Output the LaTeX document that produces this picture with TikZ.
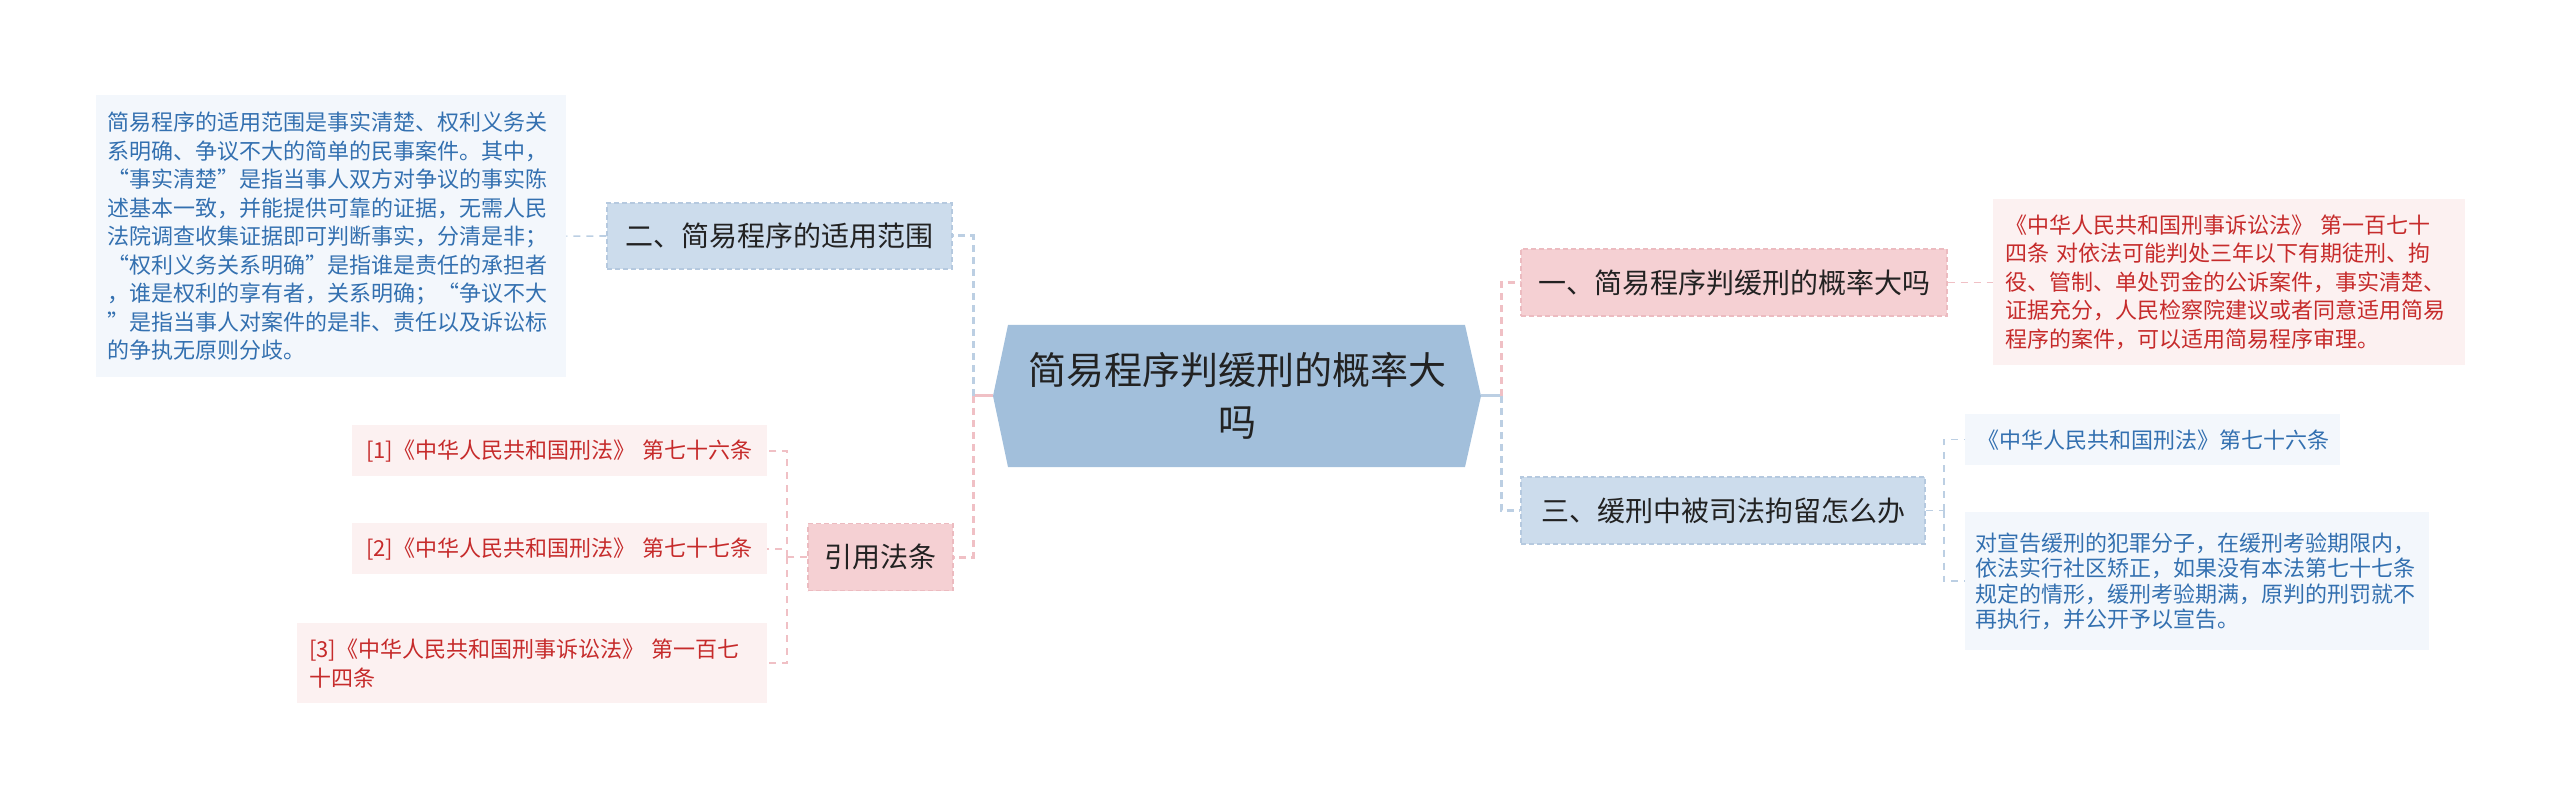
\documentclass[tikz,border=0pt]{standalone}
\usepackage{fontspec}
\newfontfamily\cjk{Noto Sans CJK SC}
\newcommand\fwq[1]{{\addfontfeature{CharacterWidth=Full}#1}}
\definecolor{centerfill}{HTML}{A2BFDB}
\definecolor{bfill}{HTML}{CCDCEC}
\definecolor{bborder}{HTML}{B5C9DF}
\definecolor{pfill}{HTML}{F5D0D3}
\definecolor{pborder}{HTML}{ECBBC0}
\definecolor{lblue}{HTML}{F3F7FC}
\definecolor{lpink}{HTML}{FCF1F1}
\definecolor{bluetext}{HTML}{3370B0}
\definecolor{redtext}{HTML}{C62B2B}
\definecolor{titletext}{HTML}{222222}
\definecolor{conblue}{HTML}{BCCFE3}
\definecolor{conpink}{HTML}{F0C0C5}
\tikzset{
  branchB/.style={fill=bfill, draw=bborder, dash pattern=on 5pt off 3pt, line width=1.2pt,
    inner sep=0pt, text=titletext, font={\cjk\fontsize{28}{34}\selectfont}},
  branchP/.style={branchB, fill=pfill, draw=pborder},
  leafB/.style={fill=lblue, text=bluetext, inner xsep=11pt, inner ysep=0pt, anchor=north west,
    align=left, font={\cjk\fontsize{22}{28.5}\selectfont}},
  leafP/.style={leafB, fill=lpink, text=redtext},
  trunkB/.style={draw=conblue, line width=3pt, dash pattern=on 7pt off 5pt},
  trunkP/.style={trunkB, draw=conpink},
  twigB/.style={draw=conblue, line width=1.6pt, dash pattern=on 7pt off 6pt},
  twigP/.style={twigB, draw=conpink},
}
\begin{document}
\begin{tikzpicture}[x=1pt,y=-1pt]
\useasboundingbox (0,0) rectangle (2560,799);

% central hexagon
\fill[centerfill] (993,396) -- (1008,325) -- (1465,325) -- (1481,396) -- (1465,467) -- (1008,467) -- cycle;
\coordinate (cL) at (993,396);
\coordinate (cR) at (1481,396);
\node[text width=440pt, align=center, text=titletext, font={\cjk\fontsize{38}{52}\selectfont}] (center) at (1237,396) {简易程序判缓刑的概率大\\吗};

% branch nodes
\node[branchB, minimum width=345pt, minimum height=66pt] (B2) at (779.5,236) {二、简易程序的适用范围};
\node[branchP, minimum width=145pt, minimum height=67pt] (B3) at (880.5,557) {引用法条};
\node[branchP, minimum width=426pt, minimum height=67pt] (B1) at (1734,282.5) {一、简易程序判缓刑的概率大吗};
\node[branchB, minimum width=404pt, minimum height=67pt] (B4) at (1723,510.5) {三、缓刑中被司法拘留怎么办};

% leaves
\node[leafB, text width=448pt, minimum height=282pt] (L1) at (96,95) {简易程序的适用范围是事实清楚、权利义务关\\系明确、争议不大的简单的民事案件。其中，\\\fwq{“}事实清楚\fwq{”}是指当事人双方对争议的事实陈\\述基本一致，并能提供可靠的证据，无需人民\\法院调查收集证据即可判断事实，分清是非；\\\fwq{“}权利义务关系明确\fwq{”}是指谁是责任的承担者\\，谁是权利的享有者，关系明确；\fwq{“}争议不大\\\fwq{”}是指当事人对案件的是非、责任以及诉讼标\\的争执无原则分歧。};

\node[leafP, inner xsep=14pt, text width=387pt, minimum height=51pt] (Q1) at (352,425) {[1]《中华人民共和国刑法》 第七十六条};
\node[leafP, inner xsep=14pt, text width=387pt, minimum height=51pt] (Q2) at (352,523) {[2]《中华人民共和国刑法》 第七十七条};
\node[leafP, inner xsep=12pt, text width=446pt, minimum height=80pt, font={\cjk\fontsize{22}{29}\selectfont}] (Q3) at (297,623) {[3]《中华人民共和国刑事诉讼法》 第一百七\\十四条};

\node[leafP, inner xsep=12pt, text width=448pt, minimum height=166pt] (R1) at (1993,199) {《中华人民共和国刑事诉讼法》 第一百七十\\四条 对依法可能判处三年以下有期徒刑、拘\\役、管制、单处罚金的公诉案件，事实清楚、\\证据充分，人民检察院建议或者同意适用简易\\程序的案件，可以适用简易程序审理。};

\node[leafB, inner xsep=12pt, text width=351pt, minimum height=51pt] (R2) at (1965,414) {《中华人民共和国刑法》第七十六条};
\node[leafB, inner xsep=10pt, text width=444pt, minimum height=138pt, font={\cjk\fontsize{22}{25.5}\selectfont}] (R3) at (1965,512) {对宣告缓刑的犯罪分子，在缓刑考验期限内，\\依法实行社区矫正，如果没有本法第七十七条\\规定的情形，缓刑考验期满，原判的刑罚就不\\再执行，并公开予以宣告。};

% center connectors
\coordinate (tL) at (973,396);
\coordinate (tR) at (1501,396);
\draw[conpink, line width=3pt] (cL) -- (tL);
\draw[trunkB] (tL) |- (B2.east);
\draw[trunkP] (tL) |- (B3.east);
\draw[conblue, line width=3pt] (cR) -- (tR);
\draw[trunkP] (tR) |- (B1.west);
\draw[trunkB] (tR) |- (B4.west);

% leaf connectors
\draw[twigB] (B2.west) -- (L1.east);
\coordinate (tq) at (787,557);
\draw[twigP] (B3.west) -- (tq);
\draw[twigP] (tq) |- (Q1.east);
\draw[twigP] (tq) |- (Q2.east);
\draw[twigP] (tq) |- (Q3.east);
\draw[twigP] (B1.east) -- (R1.west |- B1.east);
\coordinate (tr) at (1944,510.5);
\draw[twigB] (B4.east) -- (tr);
\draw[twigB] (tr) |- (R2.west);
\draw[twigB] (tr) |- (R3.west);
\end{tikzpicture}
\end{document}
